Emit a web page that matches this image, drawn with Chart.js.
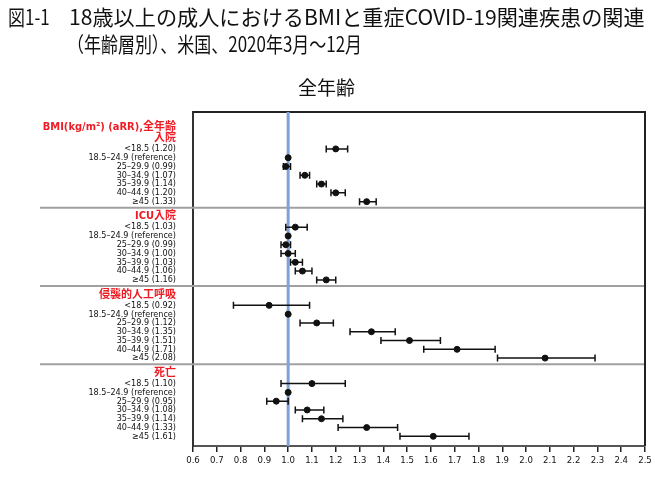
<!DOCTYPE html>
<html>
<head>
<meta charset="utf-8">
<script src="https://cdn.jsdelivr.net/npm/chart.js@4.4.0/dist/chart.umd.min.js"></script>
<style>
  body { margin: 0; background: #fff; }
  #wrap { position: relative; width: 655px; height: 480px; }
  canvas { position: absolute; left: 0; top: 0; }
  .t { position: absolute; font-family: "Noto Sans CJK JP", sans-serif; color: #111; white-space: nowrap; transform-origin: 0 0; line-height: 1; }
</style>
</head>
<body>
<div id="wrap">
  <canvas id="chart" width="655" height="480"></canvas>
  <div class="t" style="left:8px; top:6px; font-size:21px;" data-w="42">図1-1</div>
  <div class="t" style="left:69px; top:6px; font-size:21px;" data-w="576">18歳以上の成人におけるBMIと重症COVID-19関連疾患の関連</div>
  <div class="t" style="left:67px; top:33px; font-size:21px;" data-w="295">（年齢層別）、米国、2020年3月～12月</div>
  <div class="t" style="left:298px; top:77px; font-size:19px;">全年齢</div>
</div>
<script>
// BMI groups and outcomes
const ageGroups = ["<18.5", "18.5–24.9", "25–29.9", "30–34.9", "35–39.9", "40–44.9", "≥45"];
const refIndex = 1;
const outcomeTitles = [["BMI(kg/m²) (aRR),全年齢", "入院"], "ICU入院", "侵襲的人工呼吸", "死亡"];

// adjusted risk ratios with 95% CI (null = reference)
const hospRR   = [1.20, 1.00, 0.99, 1.07, 1.14, 1.20, 1.33];
const hospLow  = [1.16, null, 0.98, 1.05, 1.12, 1.18, 1.30];
const hospHigh = [1.25, null, 1.01, 1.09, 1.16, 1.24, 1.37];

const icuRR   = [1.03, 1.00, 0.99, 1.00, 1.03, 1.06, 1.16];
const icuLow  = [0.99, null, 0.97, 0.97, 1.01, 1.03, 1.12];
const icuHigh = [1.08, null, 1.01, 1.03, 1.06, 1.10, 1.20];

const ventRR   = [0.92, 1.00, 1.12, 1.35, 1.51, 1.71, 2.08];
const ventLow  = [0.77, null, 1.05, 1.26, 1.39, 1.57, 1.88];
const ventHigh = [1.09, null, 1.19, 1.45, 1.64, 1.87, 2.29];

const deathRR   = [1.10, 1.00, 0.95, 1.08, 1.14, 1.33, 1.61];
const deathLow  = [0.97, null, 0.91, 1.03, 1.06, 1.21, 1.47];
const deathHigh = [1.24, null, 1.00, 1.15, 1.23, 1.46, 1.76];

const xTickValues = [0.6, 0.7, 0.8, 0.9, 1.0, 1.1, 1.2, 1.3, 1.4, 1.5, 1.6, 1.7, 1.8, 1.9, 2.0, 2.1, 2.2, 2.3, 2.4, 2.5];

const rrSets = [hospRR, icuRR, ventRR, deathRR];
const lowSets = [hospLow, icuLow, ventLow, deathLow];
const highSets = [hospHigh, icuHigh, ventHigh, deathHigh];

// row layout (in row units, top = 0)
const ROW_TOP = 4.2, SECTION_STEP = 8.9, Y_MAX = 38;
const rowSlot = (s, i) => ROW_TOP + SECTION_STEP * s + i;

const yTicks = [], yLabels = [], yHeader = [];
outcomeTitles.forEach((title, s) => {
  yTicks.push(rowSlot(s, 0) - (Array.isArray(title) ? 1.8 : 1.2));
  yLabels.push(title);
  yHeader.push(true);
  ageGroups.forEach((g, i) => {
    yTicks.push(rowSlot(s, i));
    yLabels.push(i === refIndex ? g + " (reference)" : g + " (" + rrSets[s][i].toFixed(2) + ")");
    yHeader.push(false);
  });
});

const datasets = rrSets.map((rr, s) => ({
  data: rr.map((v, i) => ({ x: v, y: rowSlot(s, i) })),
  low: lowSets[s],
  high: highSets[s],
  backgroundColor: "#111",
  borderColor: "#111",
  pointRadius: 3,
}));

const narrow = "'Liberation Sans Narrow', 'DejaVu Sans Condensed', 'Noto Sans CJK JP', sans-serif";

const forestPlugin = {
  id: "forest",
  beforeDatasetsDraw(chart) {
    const { ctx, chartArea: a, scales } = chart;
    ctx.save();
    // section separators
    ctx.strokeStyle = "#a0a0a0";
    ctx.lineWidth = 2;
    for (let s = 1; s < outcomeTitles.length; s++) {
      const y = scales.y.getPixelForValue(rowSlot(s, 0) - 2.2);
      ctx.beginPath(); ctx.moveTo(40, y); ctx.lineTo(a.right, y); ctx.stroke();
    }
    // frame top / right
    ctx.strokeStyle = "#222";
    ctx.lineWidth = 2;
    ctx.beginPath(); ctx.moveTo(a.left, a.top); ctx.lineTo(a.right, a.top); ctx.lineTo(a.right, a.bottom); ctx.stroke();
    // reference line at 1.0
    const x1 = scales.x.getPixelForValue(1.0);
    ctx.strokeStyle = "#7fa3d8";
    ctx.lineWidth = 3;
    ctx.beginPath(); ctx.moveTo(x1, a.top); ctx.lineTo(x1, a.bottom); ctx.stroke();
    // error bars
    ctx.strokeStyle = "#111";
    ctx.lineWidth = 1.5;
    chart.data.datasets.forEach((ds, d) => {
      chart.getDatasetMeta(d).data.forEach((pt, i) => {
        if (ds.low[i] == null) return;
        const xl = scales.x.getPixelForValue(ds.low[i]);
        const xh = scales.x.getPixelForValue(ds.high[i]);
        const y = pt.y;
        ctx.beginPath();
        ctx.moveTo(xl, y); ctx.lineTo(xh, y);
        ctx.moveTo(xl, y - 3.5); ctx.lineTo(xl, y + 3.5);
        ctx.moveTo(xh, y - 3.5); ctx.lineTo(xh, y + 3.5);
        ctx.stroke();
      });
    });
    ctx.restore();
  },
};

new Chart(document.getElementById("chart"), {
  type: "scatter",
  data: { datasets },
  options: {
    responsive: false,
    animation: false,
    layout: { padding: { top: 112, right: 10, left: 0, bottom: 0 } },
    plugins: { legend: { display: false }, tooltip: { enabled: false }, title: { display: false } },
    scales: {
      x: {
        min: 0.6,
        max: 2.5,
        afterBuildTicks: (axis) => { axis.ticks = xTickValues.map((v) => ({ value: v })); },
        afterFit: (axis) => { axis.height = 34; },
        grid: { drawOnChartArea: false, drawTicks: true, tickLength: 6, color: "#222", lineWidth: 1.5 },
        border: { color: "#555", width: 2 },
        ticks: {
          callback: (v) => v.toFixed(1),
          color: "#111",
          padding: 3,
          maxRotation: 0,
          autoSkip: false,
          font: { family: narrow, size: 9.5 },
        },
      },
      y: {
        min: 0,
        max: Y_MAX,
        reverse: true,
        afterBuildTicks: (axis) => { axis.ticks = yTicks.map((v) => ({ value: v })); },
        afterFit: (axis) => { axis.width = 193; },
        grid: { display: false },
        border: { display: true, color: "#333", width: 2 },
        ticks: {
          autoSkip: false,
          padding: 9,
          callback: (v, i) => yLabels[i],
          color: (c) => (yHeader[c.index] ? "#ee1c25" : "#111"),
          font: (c) => yHeader[c.index]
            ? { family: narrow, size: 11, weight: "bold", lineHeight: 1.0 }
            : { family: narrow, size: 9 },
        },
      },
    },
  },
  plugins: [forestPlugin],
});

// fit the condensed title lines to their widths
document.querySelectorAll(".t[data-w]").forEach((el) => {
  el.style.transform = "scaleX(" + (el.dataset.w / el.offsetWidth) + ")";
});
</script>
</body>
</html>
